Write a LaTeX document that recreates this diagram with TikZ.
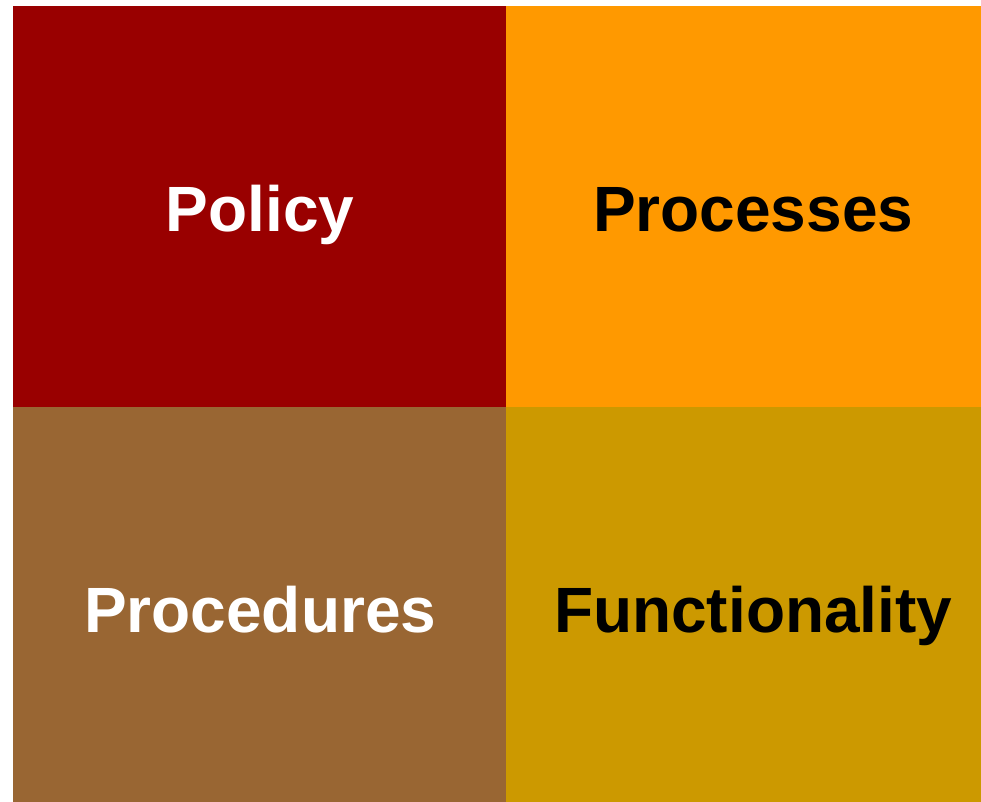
\documentclass[tikz,border=0pt]{standalone}
\usepackage{fontspec}
\setmainfont{Liberation Sans}
\usepackage{xcolor}
\usepackage{tikz}
\usetikzlibrary{positioning}

\definecolor{policyred}{HTML}{990000}
\definecolor{processorange}{HTML}{FF9900}
\definecolor{procbrown}{HTML}{996633}
\definecolor{functgold}{HTML}{CC9900}

\begin{document}
\begin{tikzpicture}[x=1pt,y=-1pt,
quad/.style={rectangle,minimum width=494pt,minimum height=401pt,inner sep=0pt,
  text height=50pt,text depth=0pt,
  font=\fontsize{64}{64}\selectfont\bfseries}]
\useasboundingbox (0,0) rectangle (981,801);
\clip (0,0) rectangle (981,801);
\matrix (grid) [row sep=-1pt,column sep=-1pt,inner sep=0pt,anchor=north west] at (13,6) {
\node (policy) [quad,fill=policyred,text=white] {Policy};
&
\node (processes) [quad,fill=processorange,text=black] {Processes};
\\
\node (procedures) [quad,fill=procbrown,text=white] {Procedures};
&
\node (functionality) [quad,fill=functgold,text=black] {Functionality};
\\
};
\end{tikzpicture}
\end{document}
